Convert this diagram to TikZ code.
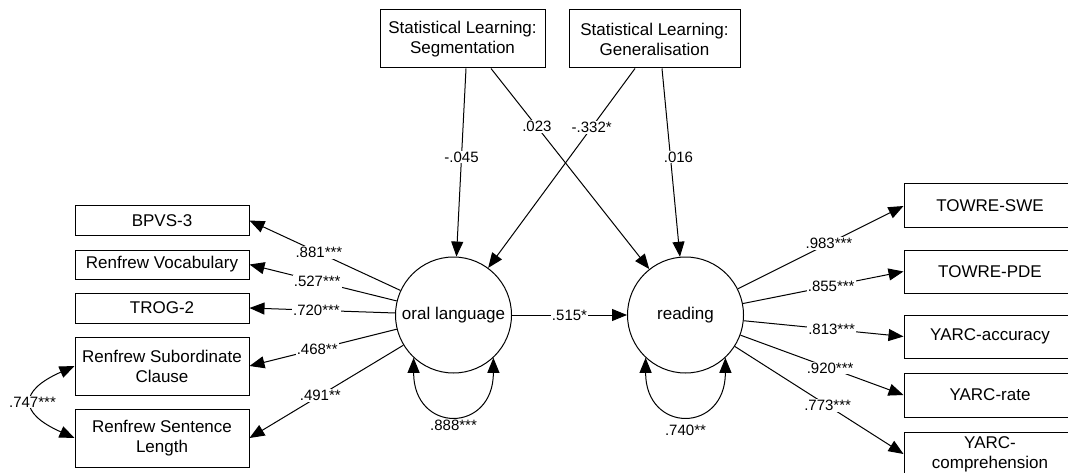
\documentclass[tikz,border=0pt]{standalone}
\usepackage{fontspec}
\setmainfont{Liberation Sans}
\usetikzlibrary{arrows.meta}
\begin{document}
\begin{tikzpicture}[x=1pt,y=-1pt,
  box/.style={draw, line width=1pt, inner sep=0pt, align=center, font=\fontsize{17}{20}\selectfont},
  lat/.style={draw, circle, line width=1pt, minimum size=116pt, inner sep=0pt, font=\fontsize{17}{20}\selectfont},
  pth/.style={line width=1pt, -{Triangle[length=15pt,width=12pt]}},
  cov/.style={line width=1pt, {Triangle[length=15pt,width=12pt]}-{Triangle[length=15pt,width=12pt]}},
  lbl/.style={fill=white, inner sep=1pt, font=\fontsize{15}{17}\selectfont},
  lblb/.style={inner sep=1pt, font=\fontsize{15}{17}\selectfont}]
\useasboundingbox (0,0) rectangle (1068,473);
% top boxes
\node[box, minimum width=165pt, minimum height=58pt] (seg) at (462.5,39) {Statistical Learning:\\Segmentation};
\node[box, minimum width=171pt, minimum height=58pt] (gen) at (654.5,39) {Statistical Learning:\\Generalisation};
% latents
\node[lat] (ol) at (453.5,315) {oral language};
\node[lat] (rd) at (685.5,315) {reading};
% left indicators
\node[box, minimum width=174pt, minimum height=29pt] (bpvs) at (162,220.5) {BPVS-3};
\node[box, minimum width=174pt, minimum height=29pt] (voc) at (162,264.5) {Renfrew Vocabulary};
\node[box, minimum width=174pt, minimum height=30pt] (trog) at (162,308) {TROG-2};
\node[box, minimum width=174pt, minimum height=58pt] (sub) at (162,366) {Renfrew Subordinate\\Clause};
\node[box, minimum width=174pt, minimum height=58pt] (sen) at (162,438) {Renfrew Sentence\\Length};
% right indicators
\node[box, minimum width=172pt, minimum height=44pt] (swe) at (990,206) {TOWRE-SWE};
\node[box, minimum width=172pt, minimum height=43pt] (pde) at (990,271.5) {TOWRE-PDE};
\node[box, minimum width=172pt, minimum height=43pt] (acc) at (990,336.5) {YARC-accuracy};
\node[box, minimum width=172pt, minimum height=44pt] (rate) at (990,395) {YARC-rate};
\node[box, minimum width=172pt, minimum height=44pt] (comp) at (990,454) {YARC-\\comprehension};
% loadings left
\draw[pth] (ol) -- node[lbl,pos=0.54]{.881***} (bpvs.east);
\draw[pth] (ol) -- node[lbl,pos=0.54]{.527***} (voc.east);
\draw[pth] (ol) -- node[lbl,pos=0.54]{.720***} (trog.east);
\draw[pth] (ol) -- node[lbl,pos=0.54]{.468**} (sub.east);
\draw[pth] (ol) -- node[lbl,pos=0.54]{.491**} (sen.east);
% loadings right
\draw[pth] (rd) -- node[lbl,pos=0.55]{.983***} (swe.west);
\draw[pth] (rd) -- node[lbl,pos=0.55]{.855***} (pde.west);
\draw[pth] (rd) -- node[lbl,pos=0.55]{.813***} (acc.west);
\draw[pth] (rd) -- node[lbl,pos=0.55]{.920***} (rate.west);
\draw[pth] (rd) -- node[lbl,pos=0.55]{.773***} (comp.west);
% structural paths
\draw[pth] ([xshift=3.5pt]seg.south) -- node[lbl,pos=0.47]{-.045} (ol);
\draw[pth] ([xshift=28.5pt]seg.south) -- node[lbl,pos=0.29]{.023} (rd);
\draw[pth] ([xshift=-19.5pt]gen.south) -- node[lbl,pos=0.295]{-.332*} (ol);
\draw[pth] ([xshift=7.5pt]gen.south) -- node[lbl,pos=0.47,xshift=8pt]{.016} (rd);
\draw[pth] (ol) -- node[lbl]{.515*} (rd);
% residual variances
\draw[cov] (ol.227) .. controls +(0,76) and +(0,76) .. (ol.313) node[lblb,pos=0.5,anchor=north,yshift=-4pt]{.888***};
\draw[cov] (rd.227) .. controls +(0,76) and +(0,76) .. (rd.313) node[lblb,pos=0.5,anchor=north,yshift=-9pt]{.740**};
% covariance
\draw[cov] (sub.west) .. controls +(-56,25) and +(-56,-25) .. (sen.west) node[lbl,pos=0.5]{.747***};
\end{tikzpicture}
\end{document}
